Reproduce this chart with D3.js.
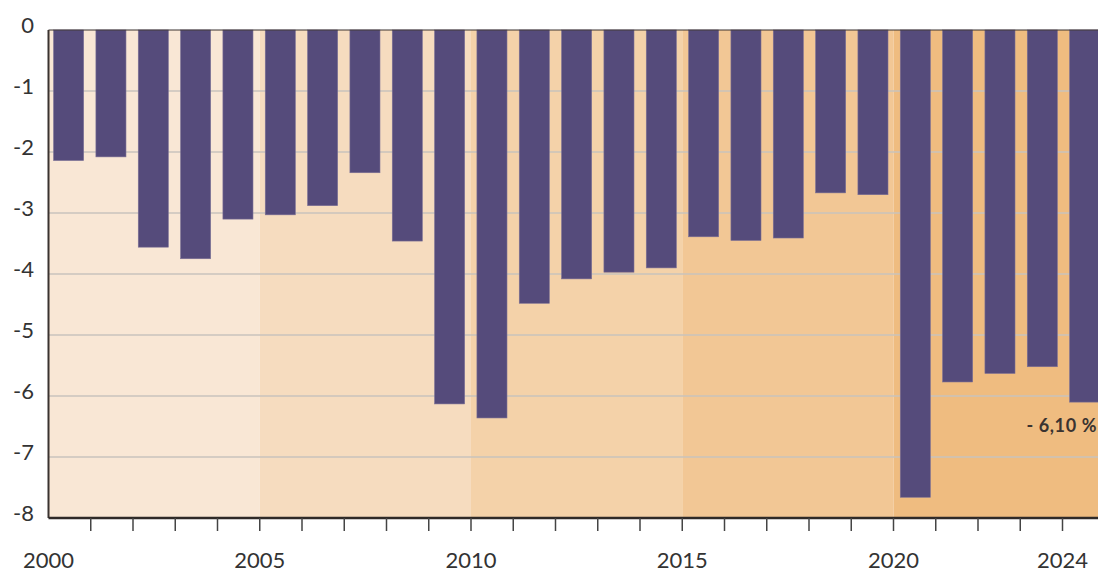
<!DOCTYPE html>
<html>
<head>
<meta charset="utf-8">
<script src="https://cdn.jsdelivr.net/npm/d3@7"></script>
<style>
  body { margin: 0; background: #fff; }
  svg { display: block; font-family: "Lato", "Open Sans", sans-serif; }
</style>
</head>
<body>
<div id="chart"></div>
<script>
// Chart data
const years = d3.range(2000, 2025);
const values = [-2.14, -2.08, -3.56, -3.75, -3.10, -3.03, -2.88, -2.34, -3.46, -6.13,
                -6.36, -4.48, -4.08, -3.97, -3.90, -3.39, -3.45, -3.41, -2.67, -2.70,
                -7.66, -5.77, -5.63, -5.52, -6.10];
const yTicks = [0, -1, -2, -3, -4, -5, -6, -7, -8];
const xLabels = [2000, 2005, 2010, 2015, 2020, 2024];
const periods = [2000, 2005, 2010, 2015, 2020];
const periodColors = ["#f9e7d5", "#f6dcbf", "#f4d2a9", "#f2c795", "#efbc80"];
const lastLabel = "- 6,10 %";

const width = 1098, height = 572;
const margin = { top: 30, left: 48.5 };
const plotBottom = 518;

const svg = d3.select("#chart").append("svg")
    .attr("width", width)
    .attr("height", height);

// Scales
const xLin = d3.scaleLinear().domain([2000, 2025]).range([margin.left, margin.left + 25 * 42.25]);
const x = d3.scaleBand().domain(years).range(xLin.range()).paddingInner(0.29).paddingOuter(0.12);
const y = d3.scaleLinear().domain([-8, 0]).range([plotBottom, margin.top]);

// Background period bands
svg.append("g")
  .selectAll("rect")
  .data(periods)
  .join("rect")
    .attr("x", d => xLin(d))
    .attr("y", y(0))
    .attr("width", d => xLin(d + 5) - xLin(d))
    .attr("height", y(-8) - y(0))
    .attr("fill", (d, i) => periodColors[i]);

// Gridlines
svg.append("g")
  .selectAll("line")
  .data(yTicks.filter(d => d !== 0 && d !== -8))
  .join("line")
    .attr("x1", margin.left)
    .attr("x2", width)
    .attr("y1", d => y(d))
    .attr("y2", d => y(d))
    .attr("stroke", "#c9c3bd")
    .attr("stroke-width", 1.5);

// Bars
svg.append("g")
  .selectAll("rect")
  .data(values)
  .join("rect")
    .attr("x", (d, i) => x(years[i]))
    .attr("y", y(0))
    .attr("width", x.bandwidth())
    .attr("height", d => y(d) - y(0))
    .attr("fill", "#554b7b")
    .attr("stroke", "#7a6f95")
    .attr("stroke-width", 0.6);

// Zero line and axes lines
svg.append("line")
    .attr("x1", margin.left).attr("x2", width)
    .attr("y1", y(0)).attr("y2", y(0))
    .attr("stroke", "#3a3330").attr("stroke-width", 1.2);
svg.append("line")
    .attr("x1", margin.left).attr("x2", margin.left)
    .attr("y1", y(0)).attr("y2", y(-8))
    .attr("stroke", "#3a3330").attr("stroke-width", 2);
svg.append("line")
    .attr("x1", margin.left).attr("x2", width)
    .attr("y1", y(-8)).attr("y2", y(-8))
    .attr("stroke", "#2f2a28").attr("stroke-width", 2.5);

// X tick marks at year boundaries
svg.append("g")
  .selectAll("line")
  .data(d3.range(2001, 2025))
  .join("line")
    .attr("x1", d => xLin(d)).attr("x2", d => xLin(d))
    .attr("y1", plotBottom).attr("y2", plotBottom + 13)
    .attr("stroke", "#444").attr("stroke-width", 1.5);

// X labels
svg.append("g")
  .selectAll("text")
  .data(xLabels)
  .join("text")
    .attr("x", d => xLin(d))
    .attr("y", 568)
    .attr("text-anchor", "middle")
    .attr("font-size", 22)
    .attr("fill", "#333")
    .text(d => d);

// Y labels
svg.append("g")
  .selectAll("text")
  .data(yTicks)
  .join("text")
    .attr("x", 34)
    .attr("y", d => y(d) + 3)
    .attr("text-anchor", "end")
    .attr("font-size", 22)
    .attr("fill", "#333")
    .text(d => d);

// Last value annotation
svg.append("text")
    .attr("x", width - 1)
    .attr("y", y(values[values.length - 1]) + 30)
    .attr("text-anchor", "end")
    .attr("font-size", 18)
    .attr("font-weight", "bold")
    .attr("letter-spacing", 0.6)
    .attr("fill", "#3a3330")
    .text(lastLabel);
</script>
</body>
</html>
